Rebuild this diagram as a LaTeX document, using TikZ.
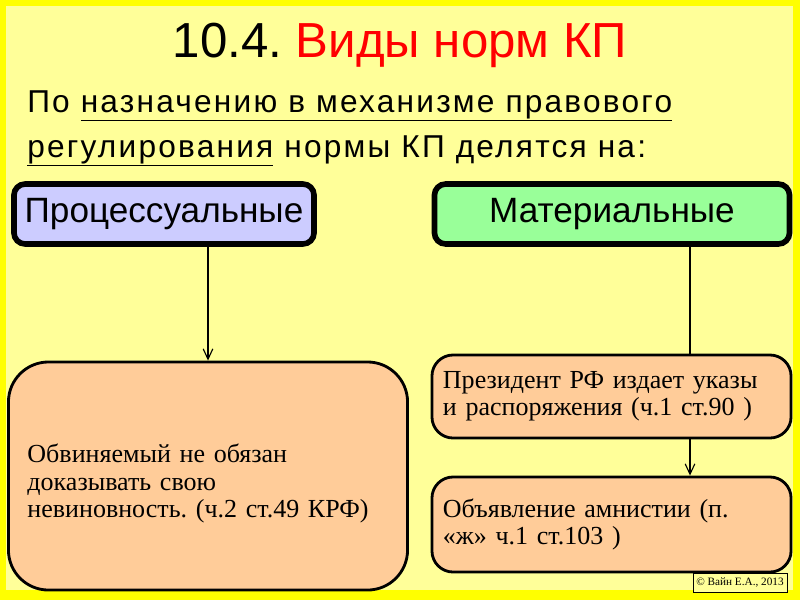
\documentclass[tikz,border=0pt]{standalone}
\usepackage{fontspec}
\setmainfont{Liberation Sans}
\newfontfamily\timesfont{Liberation Serif}
\newfontfamily\widefont[LetterSpace=7]{Liberation Sans}
\usetikzlibrary{arrows.meta}
\frenchspacing
\definecolor{framey}{RGB}{255,255,0}
\definecolor{paley}{RGB}{255,255,153}
\definecolor{lilac}{RGB}{204,204,255}
\definecolor{mint}{RGB}{153,255,153}
\definecolor{peach}{RGB}{255,204,153}
\tikzset{
  kind/.style={draw,line width=4pt,rounded corners=8pt,inner sep=0pt,minimum height=1.5cm,
    font=\fontsize{25}{30}\selectfont},
  norm/.style={draw,line width=2pt,fill=peach,align=left,inner xsep=0.275cm,inner ysep=0pt,
    text width=8.425cm,minimum width=8.975cm,font=\timesfont\fontsize{18.5}{19.3}\selectfont},
  link/.style={line width=2pt,-{Straight Barb[line width=0.8pt,length=2.6mm,width=2.4mm]}}
}
\begin{document}
\begin{tikzpicture}[x=0.025cm,y=-0.025cm]
\fill[framey] (0,0) rectangle (800,600);
\fill[paley] (6,6) rectangle (793,590);
\node (title) at (400,45) {\fontsize{35}{42}\selectfont 10.4. \textcolor{red}{Виды норм КП}};
\node[anchor=base west,inner sep=0pt] (intro1) at (27,112) {\widefont\fontsize{22.5}{26}\selectfont По \underline{назначению в механизме правового}};
\node[anchor=base west,inner sep=0pt] (intro2) at (27,157) {\widefont\fontsize{22.5}{26}\selectfont \underline{регулирования} нормы КП делятся на:};
\node[kind,fill=lilac,minimum width=7.5cm] (proc) at (164,214) {Процессуальные};
\node[kind,fill=mint,minimum width=8.875cm] (mat) at (612,214) {Материальные};
\node[norm,rounded corners=1cm,text width=9.025cm,minimum width=9.975cm,inner xsep=0.475cm,
  minimum height=5.7cm,text height=24pt] (accused) at (208,476)
  {Обвиняемый не обязан\\доказывать свою\\невиновность. (ч.2 ст.49 КРФ)};
\node[norm,rounded corners=15pt,minimum height=2.075cm] (pres) at (611.5,396.5)
  {Президент РФ издает указы\\и распоряжения (ч.1 ст.90 )};
\node[norm,rounded corners=15pt,minimum height=2.375cm] (amnesty) at (611.5,524.5)
  {Объявление амнистии (п.\\«ж» ч.1 ст.103 )};
\node[draw,fill=paley,line width=0.5pt,minimum width=2.35cm,minimum height=0.475cm,inner sep=0pt,
  font=\timesfont\fontsize{8}{9}\selectfont] (copy) at (740,582.5) {© Вайн Е.А., 2013};
\coordinate (rline) at (690,0);
\draw[link] (proc.south -| accused.north) -- (accused.north);
\draw[line width=2pt] (mat.south -| rline) -- (pres.north -| rline);
\draw[link] (pres.south -| rline) -- (amnesty.north -| rline);
\end{tikzpicture}
\end{document}
